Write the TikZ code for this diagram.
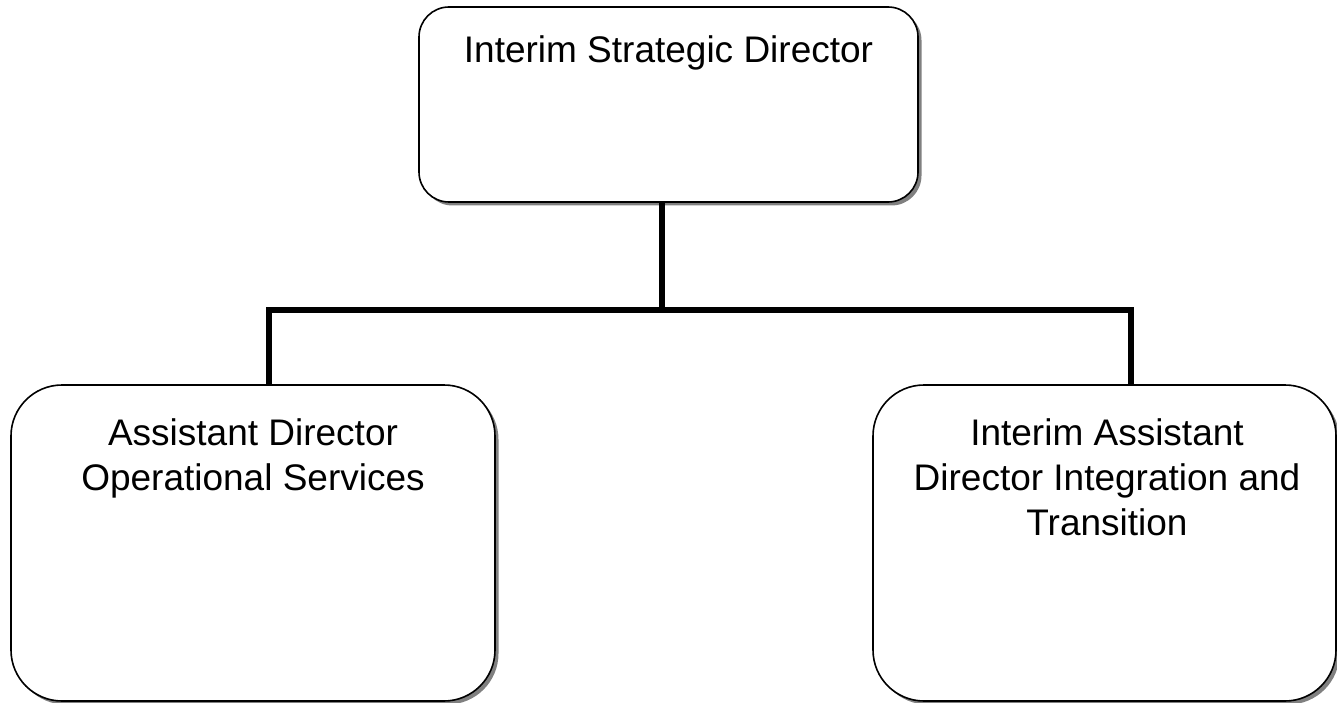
\documentclass[tikz,border=0pt]{standalone}
\usepackage{fontspec}
\setmainfont{Liberation Sans}
\usetikzlibrary{shadows}
\begin{document}
\begin{tikzpicture}[x=1pt,y=-1pt,
  box/.style={draw=black, line width=1.6pt, fill=white, rectangle,
    inner sep=0pt, outer sep=0pt,
    drop shadow={shadow xshift=3.5pt, shadow yshift=-3.5pt, fill=black!50, opacity=1}},
  boxtext/.style={anchor=north, align=center, inner sep=0pt,
    font=\fontsize{37}{45}\selectfont},
  link/.style={draw=black, line width=5.5pt}
]
\useasboundingbox (0,0) rectangle (1337,703);

% boxes
\node[box, rounded corners=30pt, minimum width=499pt, minimum height=195pt]
  (top) at (668.5,104.5) {};
\node[box, rounded corners=51pt, minimum width=484pt, minimum height=316pt]
  (left) at (253,543) {};
\node[box, rounded corners=51pt, minimum width=463pt, minimum height=316pt]
  (right) at (1104.5,543) {};

% titles
\node[boxtext] (toptext) at (668.5,35) {Interim Strategic Director};
\node[boxtext] (lefttext) at (253,418) {Assistant Director\\Operational Services};
\node[boxtext] (righttext) at (1107,418) {Interim Assistant\\Director Integration and\\Transition};

% connector bus
\coordinate (junction) at (662,310);
\coordinate (leftdrop) at (269,310);
\coordinate (rightdrop) at (1131,310);
\draw[link] (top.south -| junction) -- (junction);
\draw[link] (left.north -| leftdrop) -- (leftdrop) -- (rightdrop) -- (right.north -| rightdrop);
\end{tikzpicture}
\end{document}
